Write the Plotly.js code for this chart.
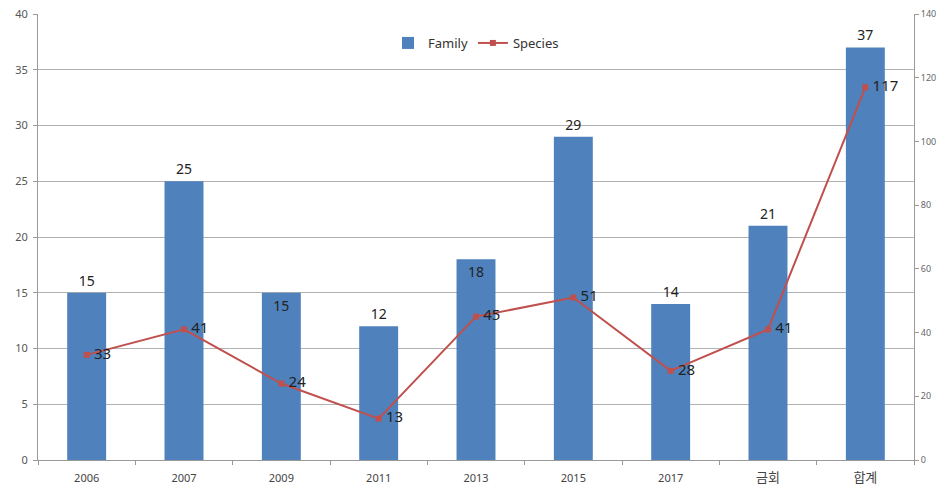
<!DOCTYPE html>
<html>
<head>
<meta charset="utf-8">
<script src="https://cdn.plot.ly/plotly-3.0.1.min.js"></script>
<style>html,body{margin:0;padding:0;background:#fff;}#chart{width:946px;height:494px;}</style>
</head>
<body>
<div id="chart"></div>
<script>
const categories = ["2006", "2007", "2009", "2011", "2013", "2015", "2017", "금회", "합계"];
const familyValues = [15, 25, 15, 12, 18, 29, 14, 21, 37];
const speciesValues = [33, 41, 24, 13, 45, 51, 28, 41, 117];
const leftTicks = [0, 5, 10, 15, 20, 25, 30, 35, 40];
const rightTicks = [0, 20, 40, 60, 80, 100, 120, 140];

const familyLabelPos = familyValues.map((v, i) => (i === 2 || i === 4) ? "inside" : "outside");
const xTickText = categories.map(c => /^\d+$/.test(c) ? c : '<span style="font-size:13px">' + c + '</span>');

const fontFam = "'Noto Sans', 'Noto Sans CJK KR', sans-serif";

const traces = [
  {
    type: "bar",
    name: "Family",
    x: categories,
    y: familyValues,
    marker: {color: "#4F81BD"},
    text: familyValues.map(String),
    textposition: familyLabelPos,
    insidetextanchor: "end",
    textfont: {family: fontFam, size: 14, color: "#222"},
    insidetextfont: {family: fontFam, size: 14, color: "#222"},
    outsidetextfont: {family: fontFam, size: 14, color: "#222"},
    cliponaxis: false,
    constraintext: "none"
  },
  {
    type: "scatter",
    mode: "lines+markers+text",
    name: "Species",
    x: categories,
    y: speciesValues,
    yaxis: "y2",
    line: {color: "#C0504D", width: 2},
    marker: {color: "#C0504D", size: 6, symbol: "square"},
    text: speciesValues.map(v => "\u2009" + v),
    textposition: "middle right",
    textfont: {family: fontFam, size: 15, color: "#222"},
    cliponaxis: false
  }
];

const layout = {
  width: 946,
  height: 494,
  margin: {l: 38, r: 32, t: 14, b: 34},
  paper_bgcolor: "#fff",
  plot_bgcolor: "#fff",
  font: {family: fontFam, color: "#555"},
  bargap: 0.6,
  showlegend: true,
  legend: {
    orientation: "h",
    x: 0.5, xanchor: "center",
    y: 0.935, yanchor: "middle",
    font: {family: fontFam, size: 13, color: "#333"},
    bgcolor: "rgba(0,0,0,0)"
  },
  xaxis: {
    type: "category",
    tickvals: categories,
    ticktext: xTickText,
    showgrid: false,
    showline: true,
    linecolor: "#999",
    linewidth: 1,
    ticks: "outside",
    tickson: "boundaries",
    ticklen: 4,
    tickcolor: "#999",
    ticklabelstandoff: 8,
    tickfont: {family: fontFam, size: 11, color: "#444"},
    zeroline: false,
    fixedrange: true
  },
  yaxis: {
    range: [0, 40],
    tickvals: leftTicks,
    ticktext: leftTicks.map(String),
    showgrid: true,
    gridcolor: "#B3B3B3",
    gridwidth: 1,
    showline: true,
    linecolor: "#999",
    ticks: "outside",
    ticklen: 4,
    tickcolor: "#999",
    ticklabelstandoff: 3,
    tickfont: {family: fontFam, size: 11, color: "#555"},
    zeroline: false
  },
  yaxis2: {
    overlaying: "y",
    side: "right",
    range: [0, 140],
    tickvals: rightTicks,
    ticktext: rightTicks.map(String),
    showgrid: false,
    showline: true,
    linecolor: "#999",
    ticks: "outside",
    ticklen: 4,
    tickcolor: "#999",
    tickfont: {family: fontFam, size: 9, color: "#666"},
    zeroline: false
  }
};

Plotly.newPlot("chart", traces, layout, {displayModeBar: false, staticPlot: true});
</script>
</body>
</html>
